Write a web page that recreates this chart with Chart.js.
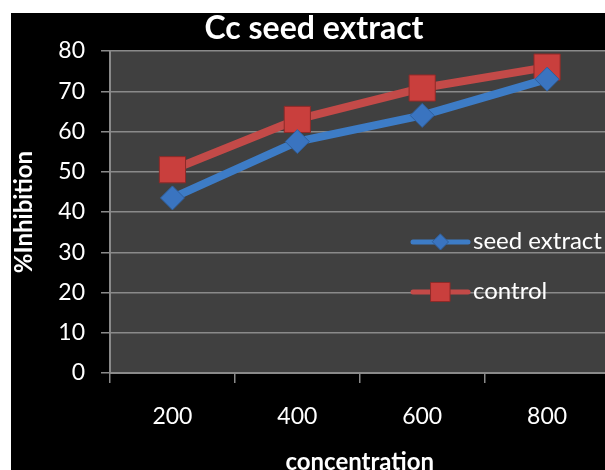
<!DOCTYPE html>
<html>
<head>
<meta charset="utf-8">
<script src="https://cdn.jsdelivr.net/npm/chart.js@4/dist/chart.umd.min.js"></script>
<style>
  html, body { margin: 0; padding: 0; background: #ffffff; overflow: hidden; width: 605px; height: 470px; }
  #wrap { position: absolute; left: 11px; top: 13px; width: 618px; height: 480px; background: #000000; }
  canvas { display: block; }
</style>
</head>
<body>
<div id="wrap"><canvas id="c" width="618" height="480"></canvas></div>
<script>
const chartTitle = "Cc seed extract";
const xTitle = "concentration";
const yTitle = "%Inhibition";
const categories = ["200", "400", "600", "800"];
const seriesNames = ["seed extract", "control"];
const seedExtract = [43.5, 57.5, 64, 73];
const control = [50.5, 63, 70.8, 76];
const yTicks = [0, 10, 20, 30, 40, 50, 60, 70, 80];

const BLUE = '#3d7cc6', BLUE_M = '#3a74c0';
const RED = '#c34a48', RED_M = '#c93f3d';

const plotBg = {
  id: 'plotBg',
  beforeDraw(chart) {
    const {ctx, chartArea: a} = chart;
    ctx.save();
    ctx.fillStyle = '#404040';
    ctx.fillRect(a.left, a.top, a.right - a.left, a.bottom - a.top);
    ctx.restore();
  }
};

function drawMarker(ctx, style, x, y, r, fill, stroke) {
  ctx.beginPath();
  if (style === 'rectRot') {
    ctx.moveTo(x, y - r); ctx.lineTo(x + r, y); ctx.lineTo(x, y + r); ctx.lineTo(x - r, y);
  } else {
    const s = r * Math.SQRT1_2;
    ctx.rect(x - s, y - s, 2 * s, 2 * s);
  }
  ctx.closePath();
  ctx.fillStyle = fill; ctx.fill();
  ctx.lineWidth = 1; ctx.strokeStyle = stroke; ctx.stroke();
}

const innerLegend = {
  id: 'innerLegend',
  afterDraw(chart) {
    const {ctx, chartArea: a} = chart;
    const rows = [191, 241];
    const legendR = [8, 13.5];
    ctx.save();
    chart.data.datasets.forEach((ds, i) => {
      const y = a.top + rows[i];
      const x0 = a.left + 303, x1 = a.left + 358;
      ctx.beginPath();
      ctx.moveTo(x0, y); ctx.lineTo(x1, y);
      ctx.lineWidth = 5; ctx.strokeStyle = ds.borderColor; ctx.lineCap = 'round';
      ctx.stroke();
      drawMarker(ctx, ds.pointStyle, (x0 + x1) / 2, y, legendR[i], ds.pointBackgroundColor, ds.pointBorderColor);
      ctx.fillStyle = '#ffffff';
      ctx.font = '24px Lato';
      ctx.textAlign = 'left';
      ctx.textBaseline = 'middle';
      ctx.fillText(ds.label, x1 + 5, y - 1);
    });
    ctx.restore();
  }
};

new Chart(document.getElementById('c'), {
  type: 'line',
  data: {
    labels: categories,
    datasets: [
      {
        label: seriesNames[0], data: seedExtract,
        borderColor: BLUE, borderWidth: 8,
        pointStyle: 'rectRot', pointRadius: 12, pointHoverRadius: 12,
        pointBackgroundColor: BLUE_M, pointBorderColor: '#2f5f9c', pointBorderWidth: 1,
        tension: 0, fill: false
      },
      {
        label: seriesNames[1], data: control,
        borderColor: RED, borderWidth: 8,
        pointStyle: 'rect', pointRadius: 18.5, pointHoverRadius: 18.5,
        pointBackgroundColor: RED_M, pointBorderColor: '#8f2a28', pointBorderWidth: 1,
        tension: 0, fill: false
      }
    ]
  },
  options: {
    responsive: false,
    devicePixelRatio: 1,
    animation: false,
    layout: { padding: { left: 0, right: 12, top: 0, bottom: 0 } },
    plugins: {
      legend: { display: false },
      tooltip: { enabled: false },
      title: {
        display: true, text: chartTitle, color: '#ffffff',
        font: { family: 'Lato', size: 32, weight: 'bold', lineHeight: 1.0 },
        padding: { top: 0, bottom: 6 }
      }
    },
    scales: {
      x: {
        type: 'category',
        offset: true,
        grid: { offset: true, drawOnChartArea: false, drawTicks: true, tickLength: 10, color: '#8a8a8a', lineWidth: 1.5 },
        border: { display: true, color: '#8a8a8a', width: 2 },
        ticks: { color: '#ffffff', font: { family: 'Lato', size: 23 }, padding: 20, maxRotation: 0 },
        title: { display: true, text: xTitle, color: '#ffffff', font: { family: 'Lato', size: 24, weight: 'bold' }, padding: { top: 0, bottom: 16 } },
        afterFit(scale) { scale.height = 120; scale.paddingLeft = 0; scale.paddingRight = 0; }
      },
      y: {
        min: 0, max: 80,
        afterBuildTicks(scale) { scale.ticks = yTicks.map(v => ({ value: v })); },
        grid: { color: '#8a8a8a', lineWidth: 1.5, drawTicks: true, tickLength: 9 },
        border: { display: true, color: '#8a8a8a', width: 2 },
        ticks: { color: '#ffffff', font: { family: 'Lato', size: 23 }, padding: 16 },
        title: { display: true, text: yTitle, color: '#ffffff', font: { family: 'Lato', size: 24, weight: 'bold', lineHeight: 1.0 }, padding: { top: 1 } },
        afterFit(scale) { scale.width = 99; }
      }
    }
  },
  plugins: [plotBg, innerLegend]
});
</script>
</body>
</html>
